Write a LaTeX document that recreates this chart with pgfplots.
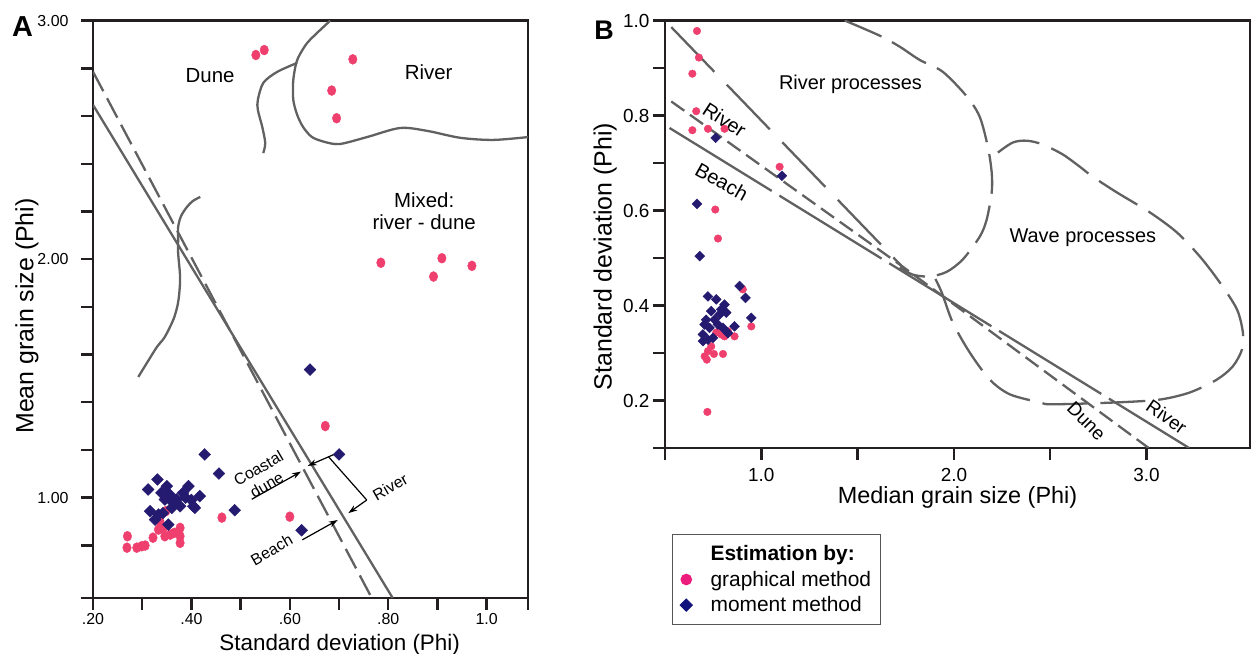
\documentclass[border=0pt]{standalone}
\usepackage{fontspec}
\setmainfont{Liberation Sans}
\usepackage{pgfplots}
\pgfplotsset{compat=1.18}
\usetikzlibrary{arrows.meta}
\definecolor{ptpink}{HTML}{EE3F6E}
\definecolor{ptnavy}{HTML}{241A70}
\definecolor{legpink}{HTML}{EC1C7C}
\definecolor{legnavy}{HTML}{12127C}
\definecolor{curve}{HTML}{616161}
\definecolor{frame}{HTML}{231F20}
\definecolor{legframe}{HTML}{555555}

\pgfplotsset{
  panel/.style={
    scale only axis,
    axis line style={line width=2.4bp, frame},
    every tick/.style={line width=2.4bp, frame},
    major tick length=12bp, minor tick length=12bp,
    tick align=outside, tick pos=left,
    /pgf/number format/assume math mode=true,
  },
  bound/.style={no markers, line width=2.3bp, curve, forget plot},
  pinkpt/.style={only marks, mark=*, color=ptpink, forget plot},
  navypt/.style={only marks, mark=square*, color=ptnavy, mark options={rotate=45}, forget plot},
}

\begin{document}
\begin{tikzpicture}
\useasboundingbox (0,0) rectangle (1252bp,654bp);

% ---------------- panel A ----------------
\begin{axis}[panel, at={(93bp,56bp)}, anchor=south west,
  width=435bp, height=577.3bp,
  xmin=0.2, xmax=1.084, ymin=0.579, ymax=3.0,
  xtick={0.2,0.4,0.6,0.8,1.0}, xticklabels={.20,.40,.60,.80,1.0},
  minor xtick={0.3,0.5,0.7,0.9,1.084},
  ytick={1,2,3}, yticklabels={1.00,2.00,3.00},
  minor ytick={0.579,0.8,1.2,1.4,1.6,1.8,2.2,2.4,2.6,2.8},
  xticklabel style={font=\fontsize{16}{19}\selectfont},
  yticklabel style={font=\fontsize{16}{19}\selectfont, xshift=-9bp},
  xlabel={Standard deviation (Phi)},
  ylabel={Mean grain size (Phi)},
  xlabel style={font=\fontsize{22.5}{26}\selectfont, at={(axis description cs:0.567,-0.0905)}, anchor=base},
  ylabel style={font=\fontsize{25}{29}\selectfont, at={(axis description cs:-0.1372,0.4885)}, anchor=base},
]
% river field boundary
\addplot[bound, smooth] coordinates {(0.682,3.0) (0.655,2.948) (0.635,2.906) (0.621,2.861) (0.613,2.823) (0.607,2.751) (0.607,2.668) (0.615,2.605) (0.627,2.554) (0.645,2.512) (0.672,2.491) (0.702,2.483) (0.757,2.512) (0.824,2.550) (0.879,2.538) (0.946,2.509) (1.013,2.500) (1.084,2.512)};
% dune field boundary
\addplot[bound, smooth] coordinates {(0.546,2.445) (0.550,2.487) (0.544,2.554) (0.535,2.626) (0.535,2.668) (0.546,2.739) (0.574,2.785) (0.615,2.823)};
% lower curve
\addplot[bound, smooth] coordinates {(0.418,2.261) (0.403,2.244) (0.391,2.219) (0.379,2.181) (0.373,2.135) (0.373,2.081) (0.373,2.026) (0.377,1.925) (0.375,1.850) (0.371,1.799) (0.363,1.745) (0.346,1.674) (0.330,1.632) (0.312,1.573) (0.292,1.506)};
% discriminant lines
\addplot[bound, dash pattern=on 22bp off 8bp] coordinates {(0.2,2.786) (0.7665,0.579)};
\addplot[bound] coordinates {(0.2,2.647) (0.809,0.579)};

% graphical method
\addplot[pinkpt, mark size=5bp, mark options={xscale=0.85}] coordinates {
 (0.531,2.856) (0.548,2.877) (0.728,2.838) (0.685,2.707) (0.695,2.591)
 (0.785,1.985) (0.909,2.004) (0.892,1.927) (0.970,1.972) (0.672,1.300)
 (0.462,0.916) (0.600,0.920)
 (0.270,0.838) (0.269,0.790) (0.289,0.790) (0.299,0.796) (0.306,0.799)
 (0.322,0.832) (0.333,0.866) (0.343,0.873) (0.346,0.838) (0.357,0.845)
 (0.377,0.873) (0.377,0.838) (0.377,0.810) (0.348,0.943) (0.336,0.901) (0.365,0.852)};
% moment method
\addplot[navypt, mark size=4.2bp] coordinates {
 (0.641,1.537) (0.700,1.181) (0.624,0.863) (0.427,1.181) (0.456,1.101) (0.488,0.947)
 (0.331,1.076) (0.312,1.034) (0.350,1.048) (0.356,1.013) (0.370,0.992) (0.394,1.048)
 (0.383,1.020) (0.377,0.964) (0.360,0.957) (0.346,0.992) (0.339,1.020) (0.417,1.006)
 (0.407,0.957) (0.316,0.943) (0.326,0.908) (0.353,0.887) (0.333,0.929) (0.363,0.978)
 (0.404,0.964) (0.400,0.990) (0.388,1.000) (0.342,0.935)};

% annotations
\draw[-{Stealth[length=9bp,width=6bp]}, line width=1.2bp] (axis cs:0.5226,0.993) -- (axis cs:0.6228,1.109);
\draw[-{Stealth[length=9bp,width=6bp]}, line width=1.2bp] (axis cs:0.6953,1.186) -- (axis cs:0.6364,1.133);
\draw[line width=1.2bp] (axis cs:0.6783,1.172) -- (axis cs:0.7563,0.990);
\draw[-{Stealth[length=9bp,width=6bp]}, line width=1.2bp] (axis cs:0.7563,0.990) -- (axis cs:0.7189,0.935);
\draw[-{Stealth[length=9bp,width=6bp]}, line width=1.2bp] (axis cs:0.6254,0.823) -- (axis cs:0.6974,0.906);
\node[rotate=30, font=\fontsize{16}{19}\selectfont] at (axis cs:0.536,1.123) {Coastal};
\node[rotate=30, font=\fontsize{16}{19}\selectfont] at (axis cs:0.553,1.053) {dune};
\node[rotate=30, font=\fontsize{16}{19}\selectfont] at (axis cs:0.563,0.781) {Beach};
\node[rotate=30, font=\fontsize{16}{19}\selectfont] at (axis cs:0.804,1.045) {River};
\node[font=\fontsize{20.5}{24}\selectfont] at (axis cs:0.438,2.768) {Dune};
\node[font=\fontsize{20.5}{24}\selectfont] at (axis cs:0.882,2.786) {River};
\node[font=\fontsize{20.5}{24}\selectfont] at (axis cs:0.873,2.248) {Mixed:};
\node[font=\fontsize{20.5}{24}\selectfont] at (axis cs:0.873,2.153) {river - dune};
\end{axis}

% ---------------- panel B ----------------
\begin{axis}[panel, at={(665bp,206bp)}, anchor=south west,
  width=585bp, height=427.5bp,
  xmin=0.5, xmax=3.537, ymin=0.1, ymax=1.0,
  xtick={1,2,3}, xticklabels={1.0,2.0,3.0}, minor xtick={0.5,1.5,2.5},
  ytick={0.2,0.4,0.6,0.8,1.0}, yticklabels={0.2,0.4,0.6,0.8,1.0},
  minor ytick={0.1,0.3,0.5,0.7,0.9},
  xticklabel style={font=\fontsize{19}{22}\selectfont, yshift=-5bp},
  yticklabel style={font=\fontsize{19}{22}\selectfont},
  xlabel={Median grain size (Phi)},
  ylabel={Standard deviation (Phi)},
  xlabel style={font=\fontsize{23.5}{27}\selectfont, at={(axis description cs:0.5,-0.1287)}, anchor=base},
  ylabel style={font=\fontsize{25}{29}\selectfont, at={(axis description cs:-0.0911,0.4477)}, anchor=base},
  legend style={at={(axis description cs:0.012,-0.2013)}, anchor=north west,
    draw=legframe, line width=1bp, font=\fontsize{21}{25}\selectfont,
    inner xsep=7.7bp, inner ysep=9bp, row sep=5bp},
  legend cell align=left,
  legend image code/.code={\path[draw=none, fill=none] (0bp,-3bp) rectangle (27.6bp,3bp); \draw[#1] plot coordinates {(5.3bp,0bp)};},
]
\addlegendimage{empty legend}
\addlegendentry{\textbf{Estimation by:}}
\addlegendimage{only marks, mark=*, mark size=5.3bp, color=legpink}
\addlegendentry{graphical method}
\addlegendimage{only marks, mark=square*, mark size=4.3bp, color=legnavy, mark options={rotate=45}}
\addlegendentry{moment method}

% river processes field
\addplot[bound, smooth, dash pattern=on 40bp off 12bp] coordinates {(1.433,1.0) (1.615,0.968) (1.718,0.945) (1.822,0.917) (1.942,0.892) (2.067,0.840) (2.134,0.797) (2.176,0.734) (2.196,0.680) (2.196,0.638) (2.170,0.581) (2.134,0.545) (2.046,0.497) (1.963,0.471) (1.874,0.461) (1.786,0.465) (1.718,0.480)};
% wave processes field
\addplot[bound, smooth, dash pattern=on 45bp off 13bp] coordinates {(2.228,0.722) (2.305,0.743) (2.378,0.747) (2.461,0.739) (2.565,0.718) (2.654,0.692) (2.721,0.671) (2.846,0.638) (3.017,0.596) (3.157,0.554) (3.277,0.503) (3.381,0.448) (3.469,0.392) (3.500,0.343) (3.495,0.307) (3.448,0.272) (3.365,0.244) (3.225,0.217) (3.069,0.202) (2.846,0.196) (2.513,0.192) (2.446,0.196) (2.290,0.213) (2.186,0.244) (2.082,0.301) (1.994,0.364) (1.937,0.427) (1.900,0.459)};
% discriminant lines
\addplot[bound, dash pattern=on 62bp off 18bp] coordinates {(0.5325,0.9861) (1.75,0.474)};
\addplot[bound, dash pattern=on 16bp off 7bp] coordinates {(0.5325,0.8296) (1.734,0.4818) (3.011,0.1)};
\addplot[bound, dash pattern=on 120bp off 9bp] coordinates {(0.5236,0.7737) (3.221,0.1)};

% graphical method
\addplot[pinkpt, mark size=3.8bp] coordinates {
 (0.666,0.978) (0.676,0.922) (0.642,0.888) (0.662,0.809) (0.642,0.769) (0.723,0.772)
 (0.809,0.772) (1.095,0.692) (0.761,0.602) (0.775,0.541) (0.904,0.434) (0.948,0.356)
 (0.861,0.335) (0.801,0.298) (0.754,0.298) (0.723,0.304) (0.706,0.293) (0.717,0.286)
 (0.766,0.343) (0.792,0.339) (0.809,0.335) (0.827,0.346) (0.783,0.349) (0.740,0.314)
 (0.720,0.176)};
% moment method
\addplot[navypt, mark size=3.5bp] coordinates {
 (0.763,0.753) (1.107,0.673) (0.666,0.614) (0.680,0.504) (0.887,0.441) (0.918,0.416)
 (0.948,0.374) (0.861,0.356) (0.827,0.342) (0.723,0.419) (0.766,0.413) (0.809,0.402)
 (0.818,0.385) (0.783,0.381) (0.740,0.388) (0.706,0.360) (0.731,0.353) (0.775,0.360)
 (0.801,0.353) (0.697,0.339) (0.723,0.328) (0.749,0.332) (0.714,0.370) (0.757,0.370)
 (0.792,0.392) (0.697,0.325)};

\node[font=\fontsize{20}{24}\selectfont] at (axis cs:1.463,0.865) {River processes};
\node[font=\fontsize{20}{24}\selectfont] at (axis cs:2.669,0.543) {Wave processes};
\node[rotate=-33, font=\fontsize{20}{24}\selectfont] at (axis cs:0.809,0.791) {River};
\node[rotate=-29, font=\fontsize{20}{24}\selectfont] at (axis cs:0.795,0.661) {Beach};
\node[rotate=-45, font=\fontsize{19}{23}\selectfont] at (axis cs:2.688,0.157) {Dune};
\node[rotate=-35, font=\fontsize{19}{23}\selectfont] at (axis cs:3.104,0.166) {River};
\end{axis}

\node[font=\bfseries\fontsize{29}{32}\selectfont] at (22.5bp,627.3bp) {A};
\node[font=\bfseries\fontsize{27}{30}\selectfont] at (604bp,623.7bp) {B};
\end{tikzpicture}
\end{document}
